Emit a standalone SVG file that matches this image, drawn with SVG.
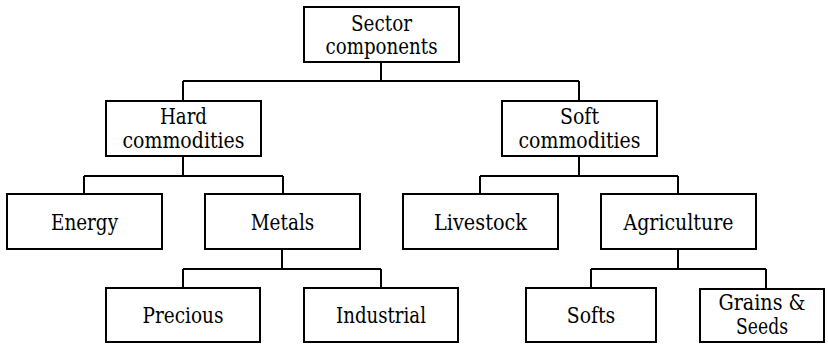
<svg xmlns="http://www.w3.org/2000/svg" width="828" height="344" viewBox="0 0 828 344">
  <style>
    .box { fill: #ffffff; stroke: #000000; stroke-width: 2; }
    .lbl { font-family: "DejaVu Serif", "Liberation Serif", serif; font-size: 21.5px; fill: #000000; text-anchor: middle; }
    .conn { fill: none; stroke: #000000; stroke-width: 2; }
  </style>
  <rect width="828" height="344" fill="#ffffff"/>

  <!-- tree connectors -->
  <g id="connectors">
    <path class="conn" d="M381,62 V81 M183,81 H579 M183,81 V101 M579,81 V101"/>
    <path class="conn" d="M183,156 V176 M84,176 H283 M84,176 V194 M283,176 V194"/>
    <path class="conn" d="M579,156 V176 M480,176 H678 M480,176 V194 M678,176 V194"/>
    <path class="conn" d="M282,249 V269 M183,269 H381 M183,269 V288 M381,269 V288"/>
    <path class="conn" d="M678,249 V269 M591,269 H766 M591,269 V288 M766,269 V289"/>
  </g>

  <g id="sector">
    <rect class="box" x="304" y="7" width="155" height="55"/>
    <text class="lbl" x="381.5" y="31" textLength="61" lengthAdjust="spacingAndGlyphs">Sector</text>
    <text class="lbl" x="381.5" y="54" textLength="112" lengthAdjust="spacingAndGlyphs">components</text>
  </g>

  <g id="hard">
    <rect class="box" x="106" y="101" width="155" height="55"/>
    <text class="lbl" x="183.5" y="123.5" textLength="47" lengthAdjust="spacingAndGlyphs">Hard</text>
    <text class="lbl" x="183.5" y="147.5" textLength="122" lengthAdjust="spacingAndGlyphs">commodities</text>
  </g>

  <g id="soft">
    <rect class="box" x="502" y="101" width="155" height="55"/>
    <text class="lbl" x="579.5" y="123.5" textLength="39" lengthAdjust="spacingAndGlyphs">Soft</text>
    <text class="lbl" x="579.5" y="147.5" textLength="122" lengthAdjust="spacingAndGlyphs">commodities</text>
  </g>

  <g id="energy">
    <rect class="box" x="7" y="194" width="155" height="55"/>
    <text class="lbl" x="84.5" y="229.5" textLength="67" lengthAdjust="spacingAndGlyphs">Energy</text>
  </g>

  <g id="metals">
    <rect class="box" x="205" y="194" width="155" height="55"/>
    <text class="lbl" x="282.5" y="229.5" textLength="63.5" lengthAdjust="spacingAndGlyphs">Metals</text>
  </g>

  <g id="livestock">
    <rect class="box" x="403" y="194" width="155" height="55"/>
    <text class="lbl" x="480.5" y="229.5" textLength="93" lengthAdjust="spacingAndGlyphs">Livestock</text>
  </g>

  <g id="agriculture">
    <rect class="box" x="601" y="194" width="155" height="55"/>
    <text class="lbl" x="678.5" y="229.5" textLength="110" lengthAdjust="spacingAndGlyphs">Agriculture</text>
  </g>

  <g id="precious">
    <rect class="box" x="106" y="288" width="154" height="54"/>
    <text class="lbl" x="183" y="322.5" textLength="81" lengthAdjust="spacingAndGlyphs">Precious</text>
  </g>

  <g id="industrial">
    <rect class="box" x="304" y="288" width="154" height="54"/>
    <text class="lbl" x="381" y="322.5" textLength="90" lengthAdjust="spacingAndGlyphs">Industrial</text>
  </g>

  <g id="softs">
    <rect class="box" x="526" y="288" width="130" height="54"/>
    <text class="lbl" x="591" y="322.5" textLength="48.5" lengthAdjust="spacingAndGlyphs">Softs</text>
  </g>

  <g id="grains">
    <rect class="box" x="700" y="289" width="124" height="53"/>
    <text class="lbl" x="762" y="309.5" textLength="87" lengthAdjust="spacingAndGlyphs">Grains &amp;</text>
    <text class="lbl" x="762" y="334" textLength="52" lengthAdjust="spacingAndGlyphs">Seeds</text>
  </g>
</svg>
